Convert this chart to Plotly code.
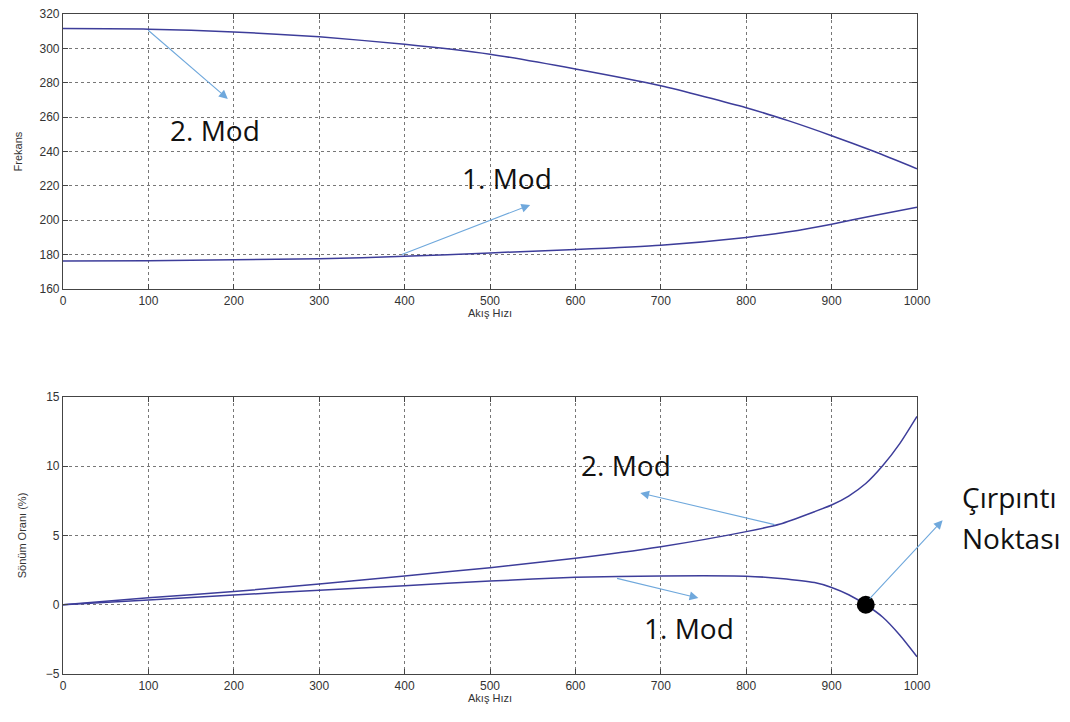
import plotly.graph_objects as go

# Data
flow = [0, 100, 200, 300, 400, 500, 600, 700, 800, 850, 900, 950, 1000]
freq_mode2 = [311.5, 311.2, 309.6, 306.7, 302.4, 296.6, 288.0, 278.2, 265.5, 257.8, 249.2, 240.0, 230.0]
freq_mode1 = [176.3, 176.5, 177.0, 177.6, 179.0, 181.0, 183.0, 185.5, 190.0, 193.3, 197.7, 202.8, 207.6]

flow_d = [0, 100, 200, 300, 400, 500, 600, 700, 800, 840, 880, 900, 920, 940, 960, 980, 1000]
damp_mode2 = [0, 0.5, 0.95, 1.5, 2.08, 2.68, 3.35, 4.19, 5.28, 5.83, 6.72, 7.2, 7.85, 8.75, 10.05, 11.65, 13.6]
damp_mode1 = [0, 0.34, 0.70, 1.05, 1.38, 1.71, 1.98, 2.08, 2.06, 1.9, 1.6, 1.25, 0.72, 0.0, -0.9, -2.2, -3.75]

flutter_x = [940]
flutter_y = [0]

x_ticks = [0, 100, 200, 300, 400, 500, 600, 700, 800, 900, 1000]
top_yticks = [160, 180, 200, 220, 240, 260, 280, 300, 320]
bot_yticks = [-5, 0, 5, 10, 15]

line_color = "#3d3d9a"
arrow_color = "#6fa8dc"

fig = go.Figure()
ln = dict(color=line_color, width=1.5, shape="spline", smoothing=0.6)
fig.add_trace(go.Scatter(x=flow, y=freq_mode2, mode="lines", line=ln, xaxis="x", yaxis="y", showlegend=False))
fig.add_trace(go.Scatter(x=flow, y=freq_mode1, mode="lines", line=ln, xaxis="x", yaxis="y", showlegend=False))
fig.add_trace(go.Scatter(x=flow_d, y=damp_mode2, mode="lines", line=ln, xaxis="x2", yaxis="y2", showlegend=False))
fig.add_trace(go.Scatter(x=flow_d, y=damp_mode1, mode="lines", line=ln, xaxis="x2", yaxis="y2", showlegend=False))
fig.add_trace(go.Scatter(x=flutter_x, y=flutter_y, mode="markers", marker=dict(color="black", size=18),
                         xaxis="x2", yaxis="y2", showlegend=False, cliponaxis=False))

tick_font = dict(family="Liberation Sans, Arial", size=12, color="#333")
title_font = dict(family="Liberation Sans, Arial", size=11, color="#333")
axis_common = dict(showline=True, linecolor="#444", linewidth=1.2, mirror="ticks", ticks="inside",
                   ticklen=5, tickcolor="#444", showgrid=True, gridcolor="#777", griddash="dot",
                   gridwidth=1, zeroline=False, tickfont=tick_font, automargin=False)

fig.update_layout(
    width=1070, height=722, margin=dict(l=0, r=0, t=0, b=0),
    paper_bgcolor="white", plot_bgcolor="white",
    xaxis=dict(domain=[63/1070, 917/1070], range=[0, 1000], tickvals=x_ticks, anchor="y",
               title=dict(text="Akış Hızı", font=title_font, standoff=2), **axis_common),
    yaxis=dict(domain=[1-289/722, 1-14/722], range=[160, 320], tickvals=top_yticks, anchor="x",
               title=dict(text="Frekans", font=title_font, standoff=14), **axis_common),
    xaxis2=dict(domain=[63/1070, 917/1070], range=[0, 1000], tickvals=x_ticks, anchor="y2",
                title=dict(text="Akış Hızı", font=title_font, standoff=2), **axis_common),
    yaxis2=dict(domain=[1-674/722, 1-397/722], range=[-5, 15], tickvals=bot_yticks, anchor="x2",
                title=dict(text="Sönüm Oranı (%)", font=title_font, standoff=16), **axis_common),
)

ann_font = dict(family="Open Sans, Noto Sans", size=28, color="#111")

def arrow(xref, yref, tail, head):
    fig.add_annotation(x=head[0], y=head[1], ax=tail[0], ay=tail[1], xref=xref, yref=yref,
                       axref=xref, ayref=yref, text="", showarrow=True, arrowhead=2, arrowsize=1.6,
                       arrowwidth=1.1, arrowcolor=arrow_color)

# Top plot annotations
arrow("x", "y", (98, 311.3), (193, 270.6))
arrow("x", "y", (395, 179.8), (547, 208.9))
fig.add_annotation(x=178, y=252.5, xref="x", yref="y", text="2. Mod", showarrow=False, font=ann_font)
fig.add_annotation(x=520, y=224.6, xref="x", yref="y", text="1. Mod", showarrow=False, font=ann_font)

# Bottom plot annotations
arrow("x2", "y2", (835, 5.76), (676, 8.07))
arrow("x2", "y2", (647, 1.93), (744, 0.49))
arrow("x2", "y2", (943, 0.34), (1030, 6.1))
fig.add_annotation(x=659, y=10.1, xref="x2", yref="y2", text="2. Mod", showarrow=False, font=ann_font)
fig.add_annotation(x=733, y=-1.7, xref="x2", yref="y2", text="1. Mod", showarrow=False, font=ann_font)
fig.add_annotation(x=960/1070, y=1-497/722, xref="paper", yref="paper", xanchor="left", yanchor="middle",
                   text="Çırpıntı", showarrow=False, font=ann_font)
fig.add_annotation(x=960/1070, y=1-538/722, xref="paper", yref="paper", xanchor="left", yanchor="middle",
                   text="Noktası", showarrow=False, font=ann_font)

fig.write_html("out.html")
